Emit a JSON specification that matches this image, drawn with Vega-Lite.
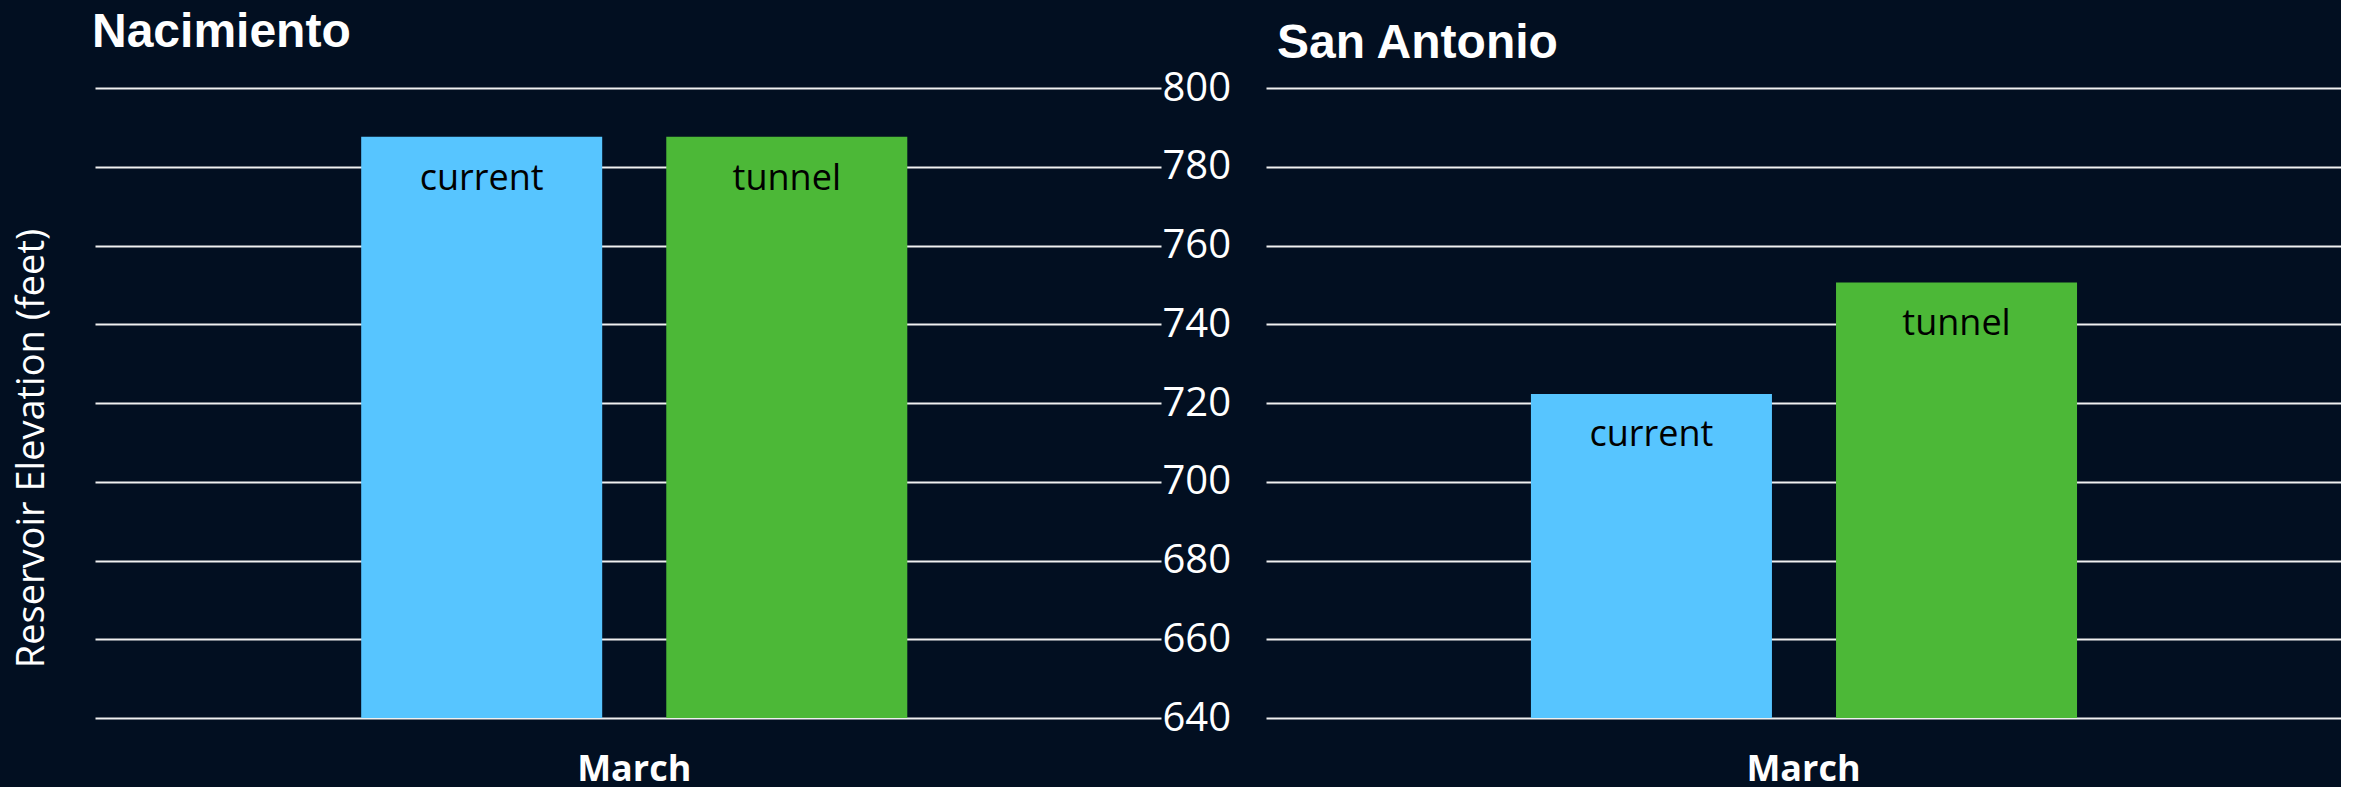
{
  "$schema": "https://vega.github.io/schema/vega-lite/v6.json",
  "background": "#020f21",
  "padding": {"left": 13, "top": 9, "right": 0, "bottom": 0},
  "data": {"values": [
    {"reservoir": "Nacimiento", "month": "March", "series": "current", "elevation": 787.6},
    {"reservoir": "Nacimiento", "month": "March", "series": "tunnel", "elevation": 787.6},
    {"reservoir": "San Antonio", "month": "March", "series": "current", "elevation": 722.3},
    {"reservoir": "San Antonio", "month": "March", "series": "tunnel", "elevation": 750.6}
  ]},
  "bounds": "flush",
  "spacing": 105,
  "hconcat": [
    {
      "title": {"text": "Nacimiento", "anchor": "start", "frame": "group", "font": "Liberation Sans", "fontWeight": "bold", "fontSize": 48, "color": "#ffffff", "baseline": "alphabetic", "offset": -27, "dx": -3},
      "width": 1066,
      "height": 630,
      "transform": [{"filter": "datum.reservoir === 'Nacimiento'"}],
      "layer": [
        {
          "mark": {"type": "bar", "clip": false},
          "encoding": {
            "x": {"field": "month", "type": "nominal", "scale": {"paddingInner": 0, "paddingOuter": 0.476, "align": 0.512}, "axis": {"title": null, "labelAngle": 0, "labelFontSize": 36, "labelFontWeight": "bold", "labelColor": "#ffffff", "labelFont": "Open Sans", "labelBaseline": "alphabetic", "labelPadding": 62, "ticks": false, "tickSize": 0, "domain": false, "grid": false}},
            "xOffset": {"field": "series", "type": "nominal", "scale": {"paddingInner": 0.21, "paddingOuter": 0}},
            "y": {"field": "elevation", "type": "quantitative", "scale": {"domain": [640, 800], "zero": false, "nice": false}, "axis": {"orient": "left", "title": "Reservoir Elevation (feet)", "titleFont": "Open Sans", "titleFontSize": 38, "titleFontWeight": "normal", "titleColor": "#ffffff", "titlePadding": 44, "titleY": 360, "labels": false, "ticks": false, "tickSize": 0, "domain": false, "grid": true, "gridColor": "#f0f0f0", "gridWidth": 2, "values": [640, 660, 680, 700, 720, 740, 760, 780, 800]}},
            "y2": {"datum": 640},
            "color": {"field": "series", "type": "nominal", "scale": {"domain": ["current", "tunnel"], "range": ["#57c5ff", "#4cb837"]}, "legend": null}
          }
        },
        {
          "mark": {"type": "text", "baseline": "middle", "dy": 42, "font": "Open Sans", "fontSize": 36, "color": "#000000"},
          "encoding": {
            "x": {"field": "month", "type": "nominal"},
            "xOffset": {"field": "series", "type": "nominal"},
            "y": {"field": "elevation", "type": "quantitative", "axis": {"orient": "right", "title": null, "labels": true, "labelFont": "Open Sans", "labelFontSize": 40, "labelColor": "#ffffff", "labelAlign": "left", "labelPadding": 1, "ticks": false, "tickSize": 0, "domain": false, "grid": false, "values": [640, 660, 680, 700, 720, 740, 760, 780, 800]}},
            "text": {"field": "series", "type": "nominal"}
          }
        }
      ],
      "resolve": {"axis": {"y": "independent"}}
    },
    {
      "title": {"text": "San Antonio", "anchor": "start", "frame": "group", "font": "Liberation Sans", "fontWeight": "bold", "fontSize": 48, "color": "#ffffff", "baseline": "alphabetic", "offset": -18, "dx": 11},
      "width": 1075,
      "height": 630,
      "transform": [{"filter": "datum.reservoir === 'San Antonio'"}],
      "layer": [
        {
          "mark": {"type": "bar", "clip": false},
          "encoding": {
            "x": {"field": "month", "type": "nominal", "scale": {"paddingInner": 0, "paddingOuter": 0.486}, "axis": {"title": null, "labelAngle": 0, "labelFontSize": 36, "labelFontWeight": "bold", "labelColor": "#ffffff", "labelFont": "Open Sans", "labelBaseline": "alphabetic", "labelPadding": 62, "ticks": false, "tickSize": 0, "domain": false, "grid": false}},
            "xOffset": {"field": "series", "type": "nominal", "scale": {"paddingInner": 0.21, "paddingOuter": 0}},
            "y": {"field": "elevation", "type": "quantitative", "scale": {"domain": [640, 800], "zero": false, "nice": false}, "axis": {"orient": "left", "title": null, "labels": false, "ticks": false, "tickSize": 0, "domain": false, "grid": true, "gridColor": "#f0f0f0", "gridWidth": 2, "values": [640, 660, 680, 700, 720, 740, 760, 780, 800]}},
            "y2": {"datum": 640},
            "color": {"field": "series", "type": "nominal", "scale": {"domain": ["current", "tunnel"], "range": ["#57c5ff", "#4cb837"]}, "legend": null}
          }
        },
        {
          "mark": {"type": "text", "baseline": "middle", "dy": 41, "font": "Open Sans", "fontSize": 36, "color": "#000000"},
          "encoding": {
            "x": {"field": "month", "type": "nominal"},
            "xOffset": {"field": "series", "type": "nominal"},
            "y": {"field": "elevation", "type": "quantitative"},
            "text": {"field": "series", "type": "nominal"}
          }
        }
      ]
    }
  ],
  "config": {"view": {"stroke": null}}
}
